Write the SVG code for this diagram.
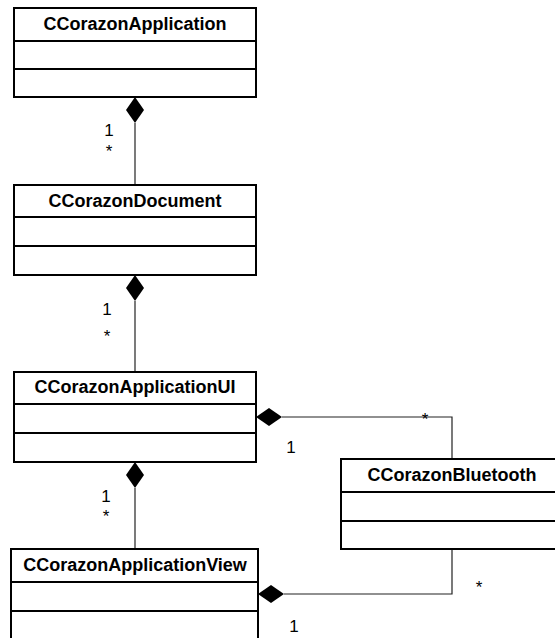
<svg xmlns="http://www.w3.org/2000/svg" width="555" height="638" viewBox="0 0 555 638">
  <style>
    .box { fill: #ffffff; stroke: #000000; stroke-width: 2; }
    .div { stroke: #000000; stroke-width: 2; }
    .title { font-family: "Liberation Sans", Arial, sans-serif; font-size: 18px; font-weight: bold; fill: #000000; text-anchor: middle; }
    .edge { fill: none; stroke: #222222; stroke-width: 1.2; }
    .diamond { fill: #000000; stroke: none; }
    .mult { font-family: "Liberation Sans", Arial, sans-serif; font-size: 17px; fill: #000000; text-anchor: middle; }
  </style>
  <rect width="555" height="638" fill="#ffffff"/>

  <!-- connectors (composition, diamond at the owner) -->
  <g id="connectors">
    <!-- CCorazonApplication owns CCorazonDocument -->
    <line class="edge" x1="135" y1="123" x2="135" y2="185"/>
    <polygon class="diamond" points="135,97 144,110 135,123 126,110"/>
    <text class="mult" x="109" y="136">1</text>
    <text class="mult" x="109" y="157">*</text>

    <!-- CCorazonDocument owns CCorazonApplicationUI -->
    <line class="edge" x1="135" y1="301" x2="135" y2="372"/>
    <polygon class="diamond" points="135,275 144,288 135,301 126,288"/>
    <text class="mult" x="107" y="315">1</text>
    <text class="mult" x="107" y="342">*</text>

    <!-- CCorazonApplicationUI owns CCorazonApplicationView -->
    <line class="edge" x1="135" y1="488" x2="135" y2="549"/>
    <polygon class="diamond" points="135,462 144,475 135,488 126,475"/>
    <text class="mult" x="106" y="502">1</text>
    <text class="mult" x="106" y="522">*</text>

    <!-- CCorazonApplicationUI owns CCorazonBluetooth -->
    <polyline class="edge" points="282,417 452,417 452,459"/>
    <polygon class="diamond" points="256,417 269,408 282,417 269,426"/>
    <text class="mult" x="291" y="453">1</text>
    <text class="mult" x="425" y="425">*</text>

    <!-- CCorazonApplicationView owns CCorazonBluetooth -->
    <polyline class="edge" points="284,594 452,594 452,549"/>
    <polygon class="diamond" points="258,594 271,585 284,594 271,603"/>
    <text class="mult" x="294" y="632">1</text>
    <text class="mult" x="479" y="593">*</text>
  </g>

  <!-- classes -->
  <g id="CCorazonApplication">
    <rect class="box" x="14" y="8" width="242" height="89"/>
    <line class="div" x1="14" y1="41" x2="256" y2="41"/>
    <line class="div" x1="14" y1="69" x2="256" y2="69"/>
    <text class="title" x="135" y="30">CCorazonApplication</text>
  </g>

  <g id="CCorazonDocument">
    <rect class="box" x="14" y="185" width="242" height="90"/>
    <line class="div" x1="14" y1="217" x2="256" y2="217"/>
    <line class="div" x1="14" y1="246" x2="256" y2="246"/>
    <text class="title" x="135" y="207">CCorazonDocument</text>
  </g>

  <g id="CCorazonApplicationUI">
    <rect class="box" x="14" y="372" width="242" height="90"/>
    <line class="div" x1="14" y1="404" x2="256" y2="404"/>
    <line class="div" x1="14" y1="433" x2="256" y2="433"/>
    <text class="title" x="135" y="393">CCorazonApplicationUI</text>
  </g>

  <g id="CCorazonBluetooth">
    <rect class="box" x="341" y="459" width="222" height="90"/>
    <line class="div" x1="341" y1="492" x2="563" y2="492"/>
    <line class="div" x1="341" y1="521" x2="563" y2="521"/>
    <text class="title" x="452" y="481">CCorazonBluetooth</text>
  </g>

  <g id="CCorazonApplicationView">
    <rect class="box" x="11" y="549" width="247" height="95"/>
    <line class="div" x1="11" y1="582" x2="258" y2="582"/>
    <line class="div" x1="11" y1="611" x2="258" y2="611"/>
    <text class="title" x="135" y="571">CCorazonApplicationView</text>
  </g>
</svg>
